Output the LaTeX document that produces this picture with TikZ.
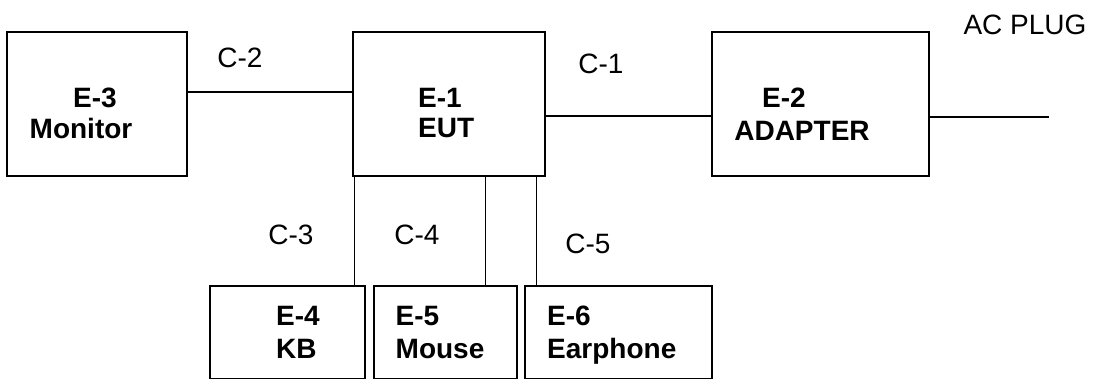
\documentclass[tikz,border=0pt]{standalone}
\usepackage{fontspec}
\setmainfont{Liberation Sans}
\begin{document}
\begin{tikzpicture}[x=1pt,y=-1pt,
  box/.style={draw,line width=1.4pt,inner sep=0pt,outer sep=0pt},
  wire/.style={line width=1.3pt},
  lbl/.style={inner sep=0pt,font=\fontsize{28}{32}\selectfont},
  blbl/.style={inner sep=0pt,font=\fontsize{28}{32}\selectfont\bfseries}]
\useasboundingbox (0,0) rectangle (1094,378);
\clip (0,0) rectangle (1094,378);
% boxes
\node[box,minimum width=180pt,minimum height=144pt] (e3) at (97,104) {};
\node[box,minimum width=192pt,minimum height=144pt] (e1) at (449,104) {};
\node[box,minimum width=217pt,minimum height=144pt] (e2) at (820.5,104) {};
\node[box,minimum width=155pt,minimum height=93pt] (e4) at (287.5,332.5) {};
\node[box,minimum width=143pt,minimum height=93pt] (e5) at (445.5,332.5) {};
\node[box,minimum width=187pt,minimum height=93pt] (e6) at (618.5,332.5) {};
% box texts
\node[blbl,anchor=base] (e3a) at (95,107) {E-3};
\node[blbl,anchor=base] (e3b) at (81,138) {Monitor};
\node[blbl,anchor=base west] (e1a) at (418,107) {E-1};
\node[blbl,anchor=base west] (e1b) at (418,137) {EUT};
\node[blbl,anchor=base] (e2a) at (784,107) {E-2};
\node[blbl,anchor=base] (e2b) at (802,140) {ADAPTER};
\node[blbl,anchor=base west] (e4a) at (276,325) {E-4};
\node[blbl,anchor=base west] (e4b) at (276,358) {KB};
\node[blbl,anchor=base west] (e5a) at (395.5,325) {E-5};
\node[blbl,anchor=base west] (e5b) at (395.5,358) {Mouse};
\node[blbl,anchor=base west] (e6a) at (547,325) {E-6};
\node[blbl,anchor=base west] (e6b) at (547,358) {Earphone};
% cable labels
\node[lbl,anchor=base] (c2) at (240,67) {C-2};
\node[lbl,anchor=base] (c1) at (601,73) {C-1};
\node[lbl,anchor=base] (c3) at (291,244) {C-3};
\node[lbl,anchor=base] (c4) at (417,244) {C-4};
\node[lbl,anchor=base] (c5) at (588,253) {C-5};
\node[lbl,anchor=base] (ac) at (1025,34) {AC PLUG};
% connectors
\coordinate (plug) at (1049,117);
\coordinate (x4) at (485.3,0);
\coordinate (x5) at (536.3,0);
\draw[wire] ([yshift=12pt]e3.east) -- ([yshift=12pt]e1.west);
\draw[wire] ([yshift=-12pt]e1.east) -- ([yshift=-12pt]e2.west);
\draw[wire] (e2.east |- plug) -- (plug);
\draw[wire] ([xshift=1.4pt]e1.south west) -- ([xshift=1.4pt]e1.south west |- e4.north);
\draw[wire] (x4 |- e1.south) -- (x4 |- e5.north);
\draw[wire] (x5 |- e1.south) -- (x5 |- e6.north);
\end{tikzpicture}
\end{document}
